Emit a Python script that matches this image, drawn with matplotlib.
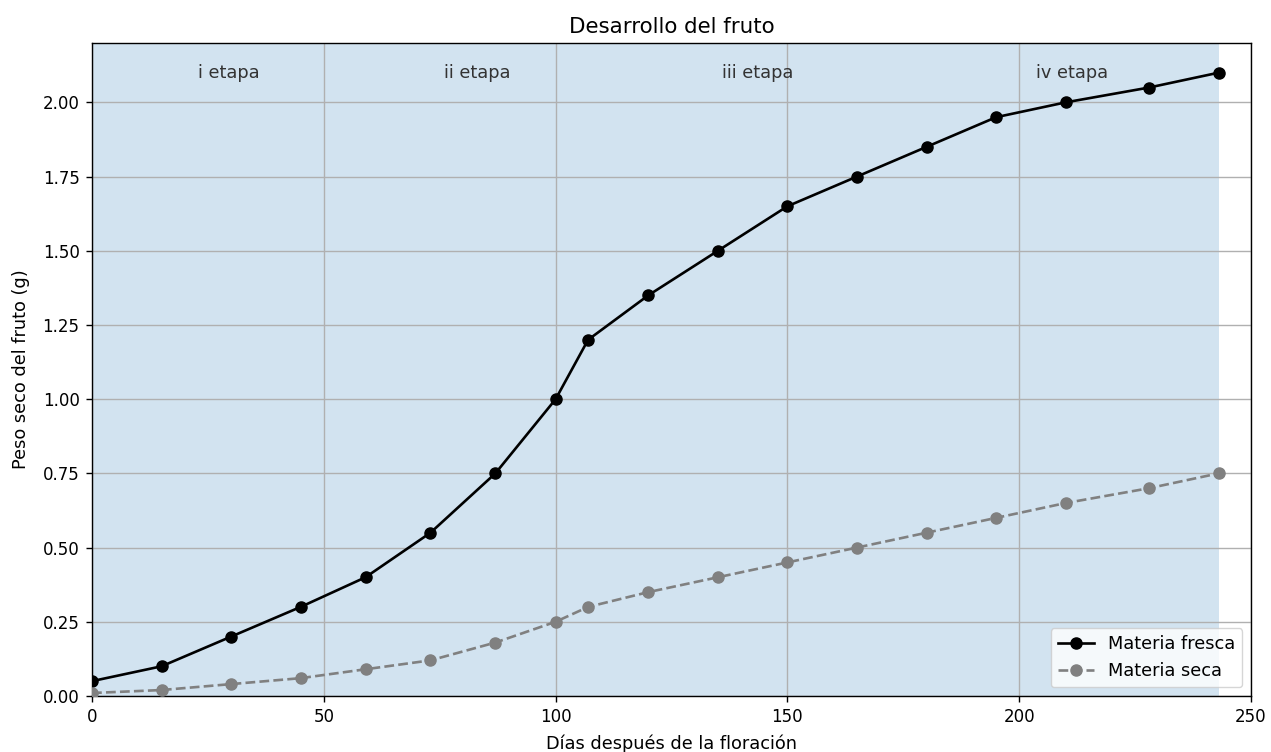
import matplotlib
matplotlib.use("Agg")
import matplotlib.pyplot as plt

# dias despues de la floracion
dias = [0, 15, 30, 45, 59, 73, 87, 100, 107, 120, 135, 150, 165, 180, 195, 210, 228, 243]
fresca = [0.05, 0.10, 0.20, 0.30, 0.40, 0.55, 0.75, 1.00, 1.20, 1.35, 1.50, 1.65,
          1.75, 1.85, 1.95, 2.00, 2.05, 2.10]
seca = [0.01, 0.02, 0.04, 0.06, 0.09, 0.12, 0.18, 0.25, 0.30, 0.35, 0.40, 0.45,
        0.50, 0.55, 0.60, 0.65, 0.70, 0.75]

# limites de las etapas
etapas = ["i etapa", "ii etapa", "iii etapa", "iv etapa"]
limites = [0, 59, 107, 180, 243]

fig, ax = plt.subplots(figsize=(12.71, 7.52), dpi=100)
fig.subplots_adjust(left=0.0724, right=0.9843, top=0.9428, bottom=0.0745)

ax.axvspan(limites[0], limites[-1], color='tab:blue', alpha=0.2, lw=0, zorder=0)
for nombre, ini, fin in zip(etapas, limites[:-1], limites[1:]):
    ax.text((ini + fin) / 2, 2.1, nombre, ha='center', va='center',
            fontsize=12.8, color='#333333')

ax.plot(dias, fresca, 'o-', color='black', markersize=8, lw=1.9,
        label='Materia fresca', zorder=3)
ax.plot(dias, seca, 'o--', color='gray', markersize=8, lw=1.9,
        label='Materia seca', zorder=3)

ax.set_xlim(0, 250)
ax.set_ylim(0, 2.2)
ax.set_yticks([0, 0.25, 0.5, 0.75, 1.0, 1.25, 1.5, 1.75, 2.0])
ax.yaxis.set_major_formatter(plt.FormatStrFormatter('%.2f'))
ax.grid(True, color='#b0b0b0', lw=1.0)
for sp in ax.spines.values():
    sp.set_linewidth(1.0)

ax.set_title('Desarrollo del fruto', fontsize=15.4, pad=7)
ax.set_xlabel('Días después de la floración', fontsize=12.8, labelpad=6)
ax.set_ylabel('Peso seco del fruto (g)', fontsize=12.8, labelpad=9)
ax.tick_params(labelsize=12, length=4.5, width=1.0, pad=4.5)
ax.legend(loc='lower right', fontsize=12.8)

fig.savefig('out.png', dpi=100)
